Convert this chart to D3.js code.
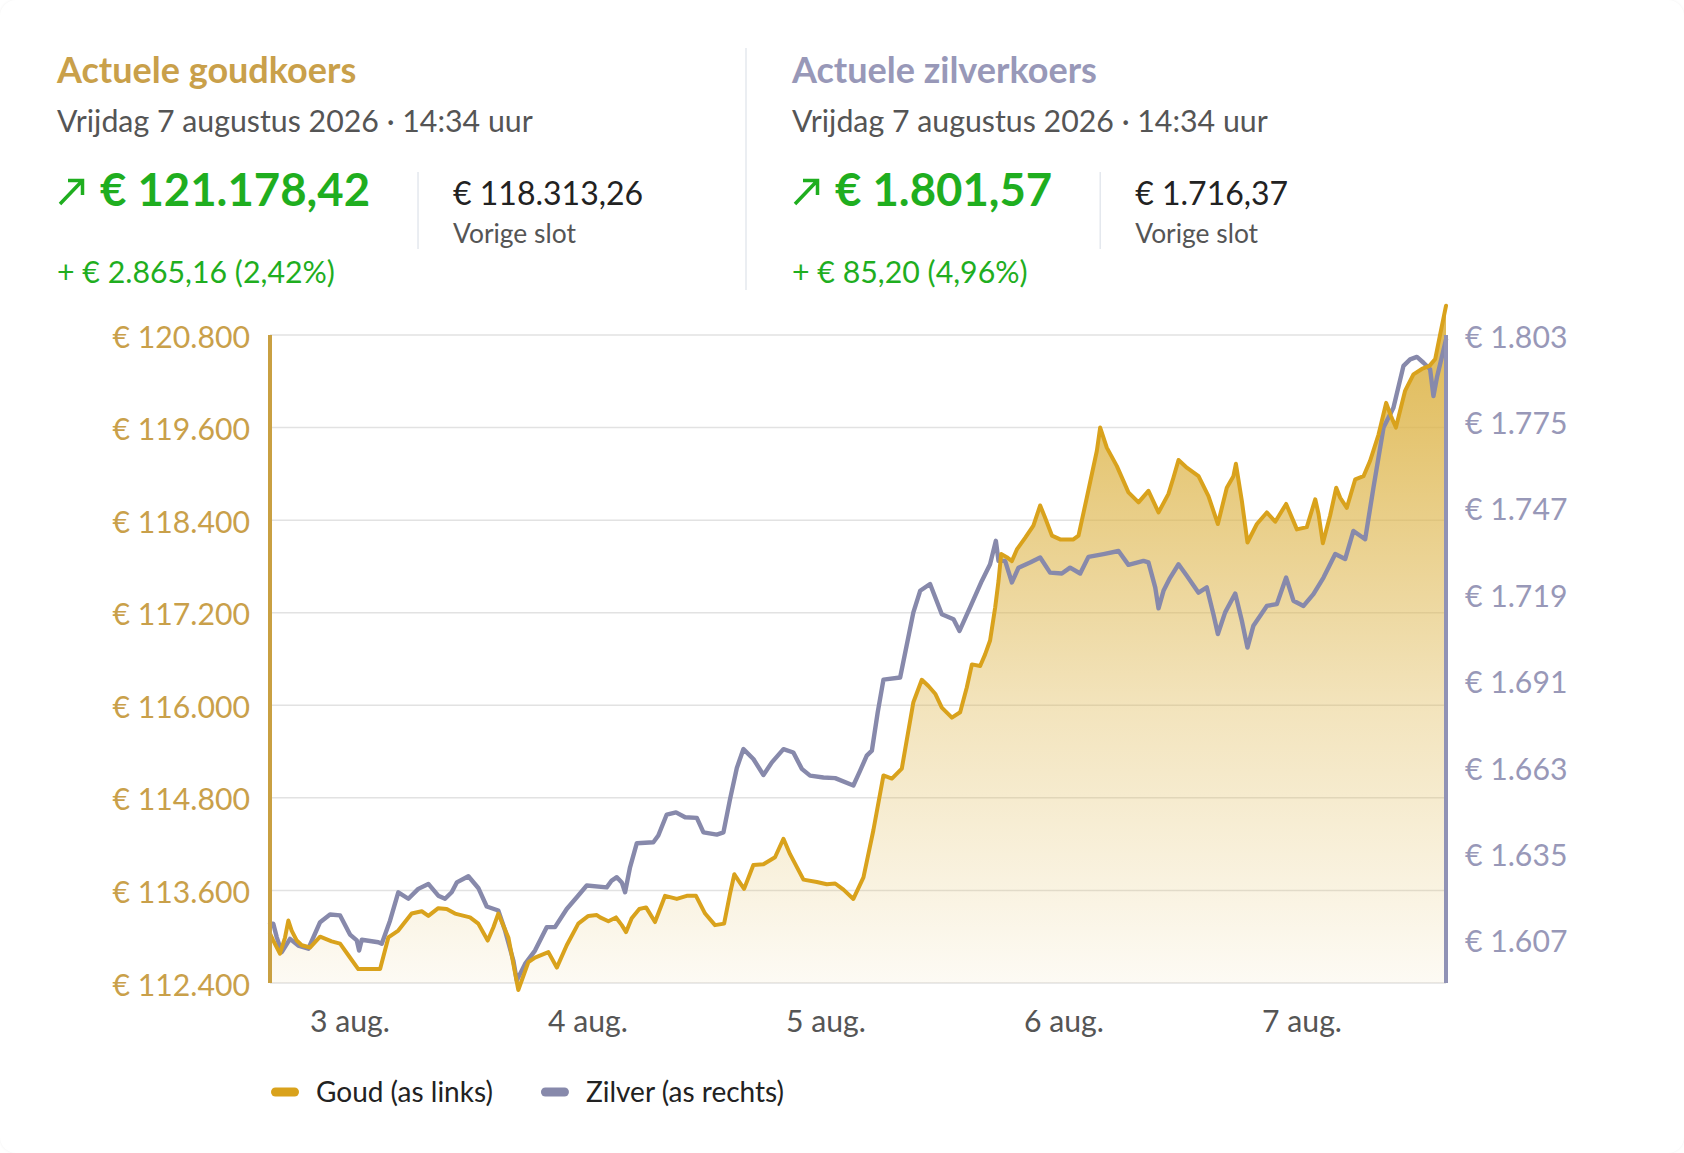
<!DOCTYPE html>
<html>
<head>
<meta charset="utf-8">
<style>
body {
    margin: 0;
    background: #fff;
    font-family: Lato, "Open Sans", sans-serif;
}
.card {
    position: absolute;
    left: 0; top: 0;
    width: 1684px; height: 1153px;
    border-radius: 16px;
    background: #fff;
    box-shadow: 0 0 3px rgba(0,0,0,0.06);
    overflow: hidden;
}
.grid line { stroke: #e2e2e2; stroke-width: 1.5; }
.axis text { font-family: Lato, sans-serif; font-size: 30.2px; }
</style>
</head>
<body>
<div class="card">
<svg id="chart" width="1684" height="1153"></svg>
</div>

<script src="https://d3js.org/d3.v7.min.js"></script>
<script>

// gold price (EUR per kg), time "DD HH:MM" in August 2026
var goldData = [
    ["02 16:00", 113040], ["02 16:20", 112950], ["02 17:00", 112780], ["02 17:31", 112990],
    ["02 17:51", 113210], ["02 18:11", 113080], ["02 18:42", 112950], ["02 19:12", 112890],
    ["02 20:02", 112860], ["02 21:03", 113000], ["02 22:13", 112940], ["02 23:04", 112910],
    ["02 23:54", 112760], ["03 00:54", 112580], ["03 03:06", 112580], ["03 03:56", 112990],
    ["03 04:56", 113080], ["03 06:17", 113300], ["03 07:18", 113330], ["03 07:58", 113270],
    ["03 08:58", 113370], ["03 09:49", 113360], ["03 10:39", 113300], ["03 12:10", 113250],
    ["03 13:00", 113170], ["03 13:57", 112950], ["03 14:31", 113120], ["03 15:01", 113300],
    ["03 16:02", 112990], ["03 17:02", 112310], ["03 18:03", 112670], ["03 18:43", 112730],
    ["03 20:04", 112800], ["03 20:55", 112600], ["03 21:55", 112890], ["03 23:05", 113170],
    ["04 00:06", 113270], ["04 00:57", 113280], ["04 01:17", 113250], ["04 02:07", 113200],
    ["04 02:53", 113250], ["04 03:28", 113150], ["04 03:54", 113060], ["04 04:28", 113240],
    ["04 05:14", 113360], ["04 05:55", 113380], ["04 06:49", 113190], ["04 07:50", 113530],
    ["04 09:01", 113490], ["04 10:01", 113530], ["04 10:57", 113530], ["04 11:52", 113300],
    ["04 12:52", 113150], ["04 13:47", 113170], ["04 14:23", 113560], ["04 14:49", 113810],
    ["04 15:13", 113730], ["04 15:48", 113620], ["04 16:44", 113930], ["04 17:45", 113940],
    ["04 18:55", 114030], ["04 19:46", 114270], ["04 20:26", 114070], ["04 21:47", 113740],
    ["04 23:08", 113710], ["05 00:08", 113680], ["05 00:59", 113690], ["05 01:49", 113610],
    ["05 02:49", 113490], ["05 03:50", 113770], ["05 04:50", 114380], ["05 05:51", 115090],
    ["05 06:42", 115050], ["05 07:42", 115180], ["05 08:52", 116040], ["05 09:43", 116330],
    ["05 10:23", 116250], ["05 11:04", 116150], ["05 11:44", 115970], ["05 12:45", 115840],
    ["05 13:35", 115910], ["05 14:15", 116230], ["05 14:46", 116530], ["05 15:36", 116510],
    ["05 16:06", 116660], ["05 16:36", 116840], ["05 17:07", 117270], ["05 17:27", 117610],
    ["05 17:43", 117960], ["05 18:17", 117920], ["05 18:48", 117870], ["05 19:18", 118020],
    ["05 20:08", 118170], ["05 20:58", 118330], ["05 21:39", 118590], ["05 22:09", 118430],
    ["05 22:50", 118200], ["05 23:40", 118150], ["06 01:00", 118150], ["06 01:31", 118200],
    ["06 02:21", 118690], ["06 03:22", 119300], ["06 03:42", 119600], ["06 04:22", 119340],
    ["06 05:23", 119100], ["06 06:33", 118760], ["06 07:34", 118630], ["06 08:34", 118780],
    ["06 09:35", 118500], ["06 10:35", 118740], ["06 11:05", 118950], ["06 11:36", 119180],
    ["06 12:26", 119080], ["06 13:37", 118970], ["06 14:37", 118710], ["06 15:34", 118350],
    ["06 16:28", 118820], ["06 17:08", 118970], ["06 17:23", 119130], ["06 17:59", 118650],
    ["06 18:33", 118110], ["06 19:30", 118350], ["06 20:30", 118500], ["06 21:21", 118380],
    ["06 22:27", 118610], ["06 23:32", 118280], ["07 00:32", 118310], ["07 01:23", 118670],
    ["07 01:43", 118480], ["07 02:09", 118100], ["07 02:53", 118460], ["07 03:30", 118820],
    ["07 03:54", 118690], ["07 04:34", 118560], ["07 05:25", 118930], ["07 06:15", 118970],
    ["07 06:55", 119170], ["07 07:46", 119510], ["07 08:32", 119920], ["07 09:01", 119750],
    ["07 09:31", 119600], ["07 10:27", 120080], ["07 11:17", 120290], ["07 12:08", 120360],
    ["07 12:54", 120400], ["07 13:29", 120490], ["07 13:59", 120810], ["07 14:34", 121178.42]
];

// silver price (EUR per kg)
var silverData = [
    ["02 16:00", 1612.2], ["02 16:20", 1612.2], ["02 16:41", 1607.8], ["02 17:11", 1603.0],
    ["02 18:01", 1607.3], ["02 18:51", 1605.1], ["02 19:52", 1604.1], ["02 21:03", 1612.7],
    ["02 22:03", 1615.2], ["02 23:04", 1614.9], ["03 00:04", 1608.7], ["03 00:45", 1606.8],
    ["03 00:59", 1603.5], ["03 01:15", 1607.0], ["03 02:55", 1606.2], ["03 03:16", 1605.7],
    ["03 04:06", 1613.2], ["03 04:56", 1622.4], ["03 05:57", 1620.3], ["03 06:57", 1623.5],
    ["03 07:58", 1625.1], ["03 08:58", 1621.3], ["03 09:39", 1620.3], ["03 10:19", 1622.4],
    ["03 10:50", 1625.6], ["03 12:00", 1627.6], ["03 13:00", 1623.8], ["03 13:51", 1617.8],
    ["03 15:01", 1616.5], ["03 15:42", 1610.0], ["03 16:32", 1600.3], ["03 16:53", 1593.8],
    ["03 17:43", 1599.2], ["03 18:43", 1603.5], ["03 19:54", 1611.1], ["03 20:44", 1611.1],
    ["03 21:55", 1617.0], ["03 22:56", 1620.8], ["03 23:56", 1624.6], ["04 01:57", 1624.0],
    ["04 02:27", 1626.2], ["04 02:58", 1627.3], ["04 03:28", 1625.6], ["04 03:48", 1622.4],
    ["04 04:18", 1630.5], ["04 04:59", 1638.3], ["04 06:39", 1638.6], ["04 07:09", 1640.8],
    ["04 08:00", 1647.6], ["04 08:56", 1648.3], ["04 09:51", 1646.7], ["04 11:02", 1646.5],
    ["04 11:42", 1641.8], ["04 13:03", 1641.1], ["04 13:43", 1641.8], ["04 14:23", 1652.6],
    ["04 15:04", 1662.7], ["04 15:44", 1668.8], ["04 16:44", 1665.6], ["04 17:45", 1660.4],
    ["04 18:36", 1664.5], ["04 19:46", 1668.8], ["04 20:46", 1667.7], ["04 21:37", 1662.4],
    ["04 22:27", 1660.2], ["04 23:48", 1659.6], ["05 00:59", 1659.4], ["05 02:49", 1657.0],
    ["05 03:30", 1661.8], ["05 04:10", 1666.7], ["05 04:41", 1668.3], ["05 05:16", 1680.6],
    ["05 05:51", 1691.3], ["05 07:32", 1692.0], ["05 08:52", 1713.1], ["05 09:33", 1720.1],
    ["05 10:33", 1722.3], ["05 11:44", 1712.5], ["05 12:55", 1710.9], ["05 13:31", 1707.1],
    ["05 14:35", 1714.7], ["05 15:46", 1723.3], ["05 16:36", 1728.7], ["05 17:11", 1736.3],
    ["05 17:27", 1729.8], ["05 18:07", 1729.8], ["05 18:48", 1722.8], ["05 19:28", 1727.6],
    ["05 20:38", 1729.3], ["05 21:39", 1730.9], ["05 22:39", 1726.0], ["05 23:50", 1725.7],
    ["06 00:40", 1727.6], ["06 01:41", 1725.7], ["06 02:31", 1731.1], ["06 04:02", 1732.0],
    ["06 05:33", 1733.0], ["06 06:33", 1728.5], ["06 08:04", 1729.8], ["06 08:34", 1729.3],
    ["06 09:15", 1721.2], ["06 09:35", 1714.4], ["06 10:05", 1720.1], ["06 10:45", 1724.3],
    ["06 11:36", 1728.7], ["06 12:26", 1725.0], ["06 13:37", 1719.5], ["06 14:27", 1721.2],
    ["06 15:07", 1712.5], ["06 15:34", 1706.1], ["06 16:18", 1713.1], ["06 17:19", 1719.2],
    ["06 17:59", 1710.4], ["06 18:33", 1701.7], ["06 19:09", 1708.8], ["06 20:30", 1715.2],
    ["06 21:31", 1715.8], ["06 22:27", 1724.4], ["06 23:11", 1716.9], ["07 00:12", 1715.2],
    ["07 01:12", 1719.0], ["07 02:13", 1724.4], ["07 03:24", 1732.0], ["07 04:24", 1730.4],
    ["07 05:14", 1739.5], ["07 06:25", 1736.8], ["07 07:15", 1753.5], ["07 08:16", 1773.0],
    ["07 09:16", 1779.4], ["07 10:17", 1793.0], ["07 10:57", 1795.1], ["07 11:38", 1795.9],
    ["07 12:18", 1794.0], ["07 12:58", 1791.9], ["07 13:18", 1783.2], ["07 13:39", 1789.2],
    ["07 14:34", 1801.57]
];

var goldTicks = [112400, 113600, 114800, 116000, 117200, 118400, 119600, 120800];
var silverTicks = [1607, 1635, 1663, 1691, 1719, 1747, 1775, 1803];
var goldDomain = [112400, 120800];
var silverDomain = [1593, 1803];

var headerDate = "Vrijdag 7 augustus 2026 · 14:34 uur";
var panels = [
    {title: "Actuele goudkoers", price: "€ 121.178,42", prev: "€ 118.313,26", change: "+ € 2.865,16 (2,42%)"},
    {title: "Actuele zilverkoers", price: "€ 1.801,57", prev: "€ 1.716,37", change: "+ € 85,20 (4,96%)"}
];
var legendItems = ["Goud (as links)", "Zilver (as rechts)"];

var goldColor = "#d9a21c",
    goldText = "#c9a04a",
    silverColor = "#8789ab",
    silverText = "#9898b8",
    green = "#1fae1f";

var parseTime = d3.timeParse("%Y-%m-%d %H:%M");
function toPoints(rows) {
    return rows.map(function(r) { return {t: parseTime("2026-08-" + r[0]), v: r[1]}; });
}
var gold = toPoints(goldData),
    silver = toPoints(silverData);

var nl = d3.formatLocale({decimal: ",", thousands: ".", grouping: [3], currency: ["€ ", ""]});
var euro = nl.format("$,.0f");
var nlTime = d3.timeFormatLocale({
    dateTime: "%a %e %B %Y %X", date: "%d-%m-%Y", time: "%H:%M:%S",
    periods: ["AM", "PM"],
    days: ["zondag", "maandag", "dinsdag", "woensdag", "donderdag", "vrijdag", "zaterdag"],
    shortDays: ["zo", "ma", "di", "wo", "do", "vr", "za"],
    months: ["januari", "februari", "maart", "april", "mei", "juni", "juli", "augustus", "september", "oktober", "november", "december"],
    shortMonths: ["jan.", "feb.", "mrt.", "apr.", "mei", "jun.", "jul.", "aug.", "sep.", "okt.", "nov.", "dec."]
});

var svg = d3.select("#chart");

// ---- header panels
var panelX = [57, 792];
panels.forEach(function(p, i) {
    var g = svg.append("g").attr("transform", "translate(" + panelX[i] + ",0)");
    g.append("text").attr("x", 0).attr("y", 83)
        .attr("font-size", 36).attr("font-weight", 700)
        .attr("fill", i === 0 ? goldText : silverText)
        .text(p.title);
    g.append("text").attr("x", 0).attr("y", 132)
        .attr("font-size", 30.3).attr("fill", "#555")
        .text(headerDate);
    // up arrow
    g.append("path")
        .attr("d", "M3,204 L25,181 M11,180.5 L25.5,180.5 L25.5,195")
        .attr("fill", "none").attr("stroke", green).attr("stroke-width", 3.5);
    var price = g.append("text").attr("x", 43).attr("y", 206)
        .attr("font-size", 45.5).attr("font-weight", 700).attr("fill", green)
        .text(p.price);
    var pw = price.node().getComputedTextLength();
    var divX = 43 + pw + 48;
    g.append("line").attr("x1", divX).attr("x2", divX).attr("y1", 172).attr("y2", 249)
        .attr("stroke", "#e4e8ee").attr("stroke-width", 1.5);
    g.append("text").attr("x", divX + 35).attr("y", 205)
        .attr("font-size", 32).attr("fill", "#222")
        .text(p.prev);
    g.append("text").attr("x", divX + 35).attr("y", 243)
        .attr("font-size", 26.4).attr("fill", "#555")
        .text("Vorige slot");
    g.append("text").attr("x", 0).attr("y", 283)
        .attr("font-size", 30.3).attr("fill", green)
        .text(p.change);
});
svg.append("line").attr("x1", 746).attr("x2", 746).attr("y1", 48).attr("y2", 290)
    .attr("stroke", "#e4e8ee").attr("stroke-width", 1.5);

// ---- chart
var plotLeft = 270, plotRight = 1446, plotTop = 335, plotBottom = 983;

var x = d3.scaleTime()
    .domain([gold[0].t, gold[gold.length - 1].t])
    .range([plotLeft, plotRight]);
var yGold = d3.scaleLinear().domain(goldDomain).range([plotBottom, plotTop]);
var ySilver = d3.scaleLinear().domain(silverDomain).range([plotBottom, plotTop]);

// gridlines
svg.append("g").attr("class", "grid")
    .selectAll("line").data(goldTicks).enter().append("line")
    .attr("x1", plotLeft).attr("x2", plotRight)
    .attr("y1", function(d) { return yGold(d); })
    .attr("y2", function(d) { return yGold(d); });

// area gradient
var grad = svg.append("defs").append("linearGradient")
    .attr("id", "goldFill").attr("gradientUnits", "userSpaceOnUse")
    .attr("x1", 0).attr("x2", 0).attr("y1", 300).attr("y2", plotBottom);
[[0, 0.95], [0.17, 0.8], [0.59, 0.37], [1, 0.06]].forEach(function(s) {
    grad.append("stop").attr("offset", s[0]).attr("stop-color", "#ddb448").attr("stop-opacity", s[1]);
});

svg.append("path").datum(gold)
    .attr("fill", "url(#goldFill)")
    .attr("d", d3.area()
        .x(function(d) { return x(d.t); })
        .y0(plotBottom)
        .y1(function(d) { return yGold(d.v); }));

svg.append("path").datum(silver)
    .attr("fill", "none").attr("stroke", silverColor).attr("stroke-width", 4.4)
    .attr("stroke-linejoin", "round").attr("stroke-linecap", "round")
    .attr("d", d3.line()
        .x(function(d) { return x(d.t); })
        .y(function(d) { return ySilver(d.v); }));

svg.append("path").datum(gold)
    .attr("fill", "none").attr("stroke", goldColor).attr("stroke-width", 4)
    .attr("stroke-linejoin", "round").attr("stroke-linecap", "round")
    .attr("d", d3.line()
        .x(function(d) { return x(d.t); })
        .y(function(d) { return yGold(d.v); }));

// left axis
var axL = svg.append("g").attr("class", "axis")
    .attr("transform", "translate(" + plotLeft + ",0)")
    .call(d3.axisLeft(yGold).tickValues(goldTicks).tickFormat(euro).tickSize(0).tickPadding(20));
axL.select(".domain").remove();
axL.selectAll("text").attr("fill", goldText).attr("dy", "0.4em");
svg.append("line").attr("x1", plotLeft).attr("x2", plotLeft).attr("y1", plotTop).attr("y2", plotBottom)
    .attr("stroke", "#c9a042").attr("stroke-width", 4);

// right axis
var axR = svg.append("g").attr("class", "axis")
    .attr("transform", "translate(" + plotRight + ",0)")
    .call(d3.axisRight(ySilver).tickValues(silverTicks).tickFormat(euro).tickSize(0).tickPadding(19));
axR.select(".domain").remove();
axR.selectAll("text").attr("fill", silverText).attr("dy", "0.4em");
svg.append("line").attr("x1", plotRight).attr("x2", plotRight).attr("y1", plotTop).attr("y2", plotBottom)
    .attr("stroke", "#9092b5").attr("stroke-width", 4);

// x axis
var axX = svg.append("g").attr("class", "axis")
    .attr("transform", "translate(0," + plotBottom + ")")
    .call(d3.axisBottom(x).ticks(d3.timeDay.every(1)).tickFormat(nlTime.format("%-d %b")).tickSize(0).tickPadding(28));
axX.select(".domain").remove();
axX.selectAll("text").attr("fill", "#555").attr("font-size", 28);

// legend
var legend = svg.append("g").attr("transform", "translate(271,1092)");
var lx = 0;
legendItems.forEach(function(name, i) {
    var item = legend.append("g").attr("transform", "translate(" + lx + ",0)");
    item.append("rect").attr("x", 0).attr("y", -4.5).attr("width", 28).attr("height", 9).attr("rx", 4.5)
        .attr("fill", i === 0 ? goldColor : silverColor);
    var t = item.append("text").attr("x", 45).attr("y", 10)
        .attr("font-size", 28).attr("fill", "#222").text(name);
    lx += 45 + t.node().getComputedTextLength() + 48;
});

</script>
</body>
</html>
